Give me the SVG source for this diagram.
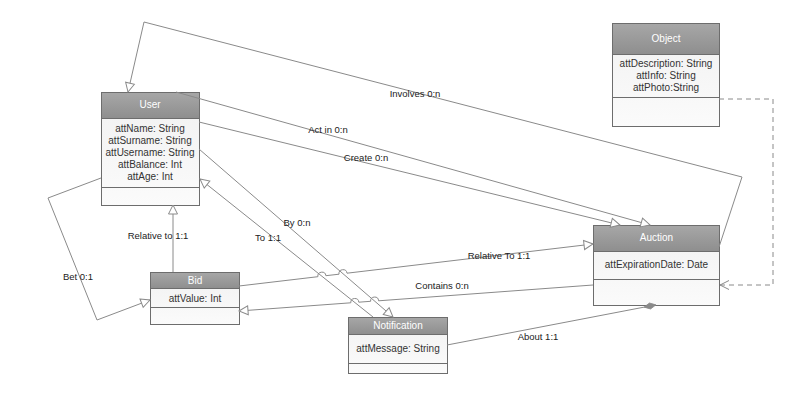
<svg xmlns="http://www.w3.org/2000/svg" width="806" height="409" viewBox="0 0 806 409">
<defs>
<linearGradient id="hdr" x1="0" y1="0" x2="0" y2="1">
<stop offset="0" stop-color="#a7a7a7"/>
<stop offset="1" stop-color="#8e8e8e"/>
</linearGradient>
<linearGradient id="bdy" x1="0" y1="0" x2="0" y2="1">
<stop offset="0" stop-color="#f1f1f1"/>
<stop offset="1" stop-color="#fbfbfb"/>
</linearGradient>
<marker id="tri" markerUnits="userSpaceOnUse" markerWidth="12" markerHeight="12" refX="9" refY="4.5" orient="auto" overflow="visible">
<path d="M0,0 L9,4.5 L0,9 Z" fill="#ffffff" stroke="#8a8a8a" stroke-width="1"/>
</marker>
<marker id="vee" markerUnits="userSpaceOnUse" markerWidth="12" markerHeight="12" refX="9" refY="4.5" orient="auto" overflow="visible">
<path d="M0,0 L9,4.5 L0,9" fill="none" stroke="#8a8a8a" stroke-width="1"/>
</marker>
<marker id="dia" markerUnits="userSpaceOnUse" markerWidth="14" markerHeight="8" refX="6" refY="3" orient="auto" overflow="visible">
<path d="M0,3 L6,0 L12,3 L6,6 Z" fill="#8a8a8a" stroke="#8a8a8a" stroke-width="0.8"/>
</marker>
</defs>
<style>
.hd{fill:url(#hdr);stroke:#6d6d6d;stroke-width:1}
.bd{fill:url(#bdy);stroke:#6d6d6d;stroke-width:1}
.ht{font-family:"Liberation Sans",Arial,sans-serif;font-size:10px;fill:#ffffff;text-anchor:middle}
.at{font-family:"Liberation Sans",Arial,sans-serif;font-size:10px;fill:#333333;text-anchor:middle}
.ln{fill:none;stroke:#8a8a8a;stroke-width:1}
.ar{marker-end:url(#tri)}
.lb{font-family:"Liberation Sans",Arial,sans-serif;font-size:9.5px;fill:#222222;text-anchor:middle}
</style>
<rect width="806" height="409" fill="#ffffff"/>

<g id="User">
<rect class="bd" x="101.5" y="92.5" width="98" height="113"/>
<rect class="hd" x="101.5" y="92.5" width="98" height="26"/>
<line x1="101.5" y1="187.5" x2="199.5" y2="187.5" stroke="#6d6d6d"/>
<text class="ht" x="150" y="108">User</text>
<text class="at" x="150" y="131.5">attName: String</text>
<text class="at" x="150" y="143.5">attSurname: String</text>
<text class="at" x="150" y="155.5">attUsername: String</text>
<text class="at" x="150" y="167.5">attBalance: Int</text>
<text class="at" x="150" y="179.5">attAge: Int</text>
</g>

<g id="Object">
<rect class="bd" x="612.5" y="23.5" width="107" height="103"/>
<rect class="hd" x="612.5" y="23.5" width="107" height="31"/>
<line x1="612.5" y1="97.5" x2="719.5" y2="97.5" stroke="#6d6d6d"/>
<text class="ht" x="666" y="42">Object</text>
<text class="at" x="666" y="66.5">attDescription: String</text>
<text class="at" x="666" y="78.5">attInfo: String</text>
<text class="at" x="666" y="90.5">attPhoto:String</text>
</g>

<g id="Auction">
<rect class="bd" x="593.5" y="225.5" width="126" height="80"/>
<rect class="hd" x="593.5" y="225.5" width="126" height="26"/>
<line x1="593.5" y1="279.5" x2="719.5" y2="279.5" stroke="#6d6d6d"/>
<text class="ht" x="656.5" y="241">Auction</text>
<text class="at" x="656.5" y="268">attExpirationDate: Date</text>
</g>

<g id="Bid">
<rect class="bd" x="150.5" y="272.5" width="89" height="52"/>
<rect class="hd" x="150.5" y="272.5" width="89" height="16"/>
<line x1="150.5" y1="307.5" x2="239.5" y2="307.5" stroke="#6d6d6d"/>
<text class="ht" x="195" y="283.5">Bid</text>
<text class="at" x="195" y="301.5">attValue: Int</text>
</g>

<g id="Notification">
<rect class="bd" x="348.5" y="317.5" width="99" height="56"/>
<rect class="hd" x="348.5" y="317.5" width="99" height="17"/>
<line x1="348.5" y1="363.5" x2="447.5" y2="363.5" stroke="#6d6d6d"/>
<text class="ht" x="398" y="329">Notification</text>
<text class="at" x="398" y="351.5">attMessage: String</text>
</g>

<g id="connectors">
<path class="ln ar" d="M719,247 L742,177 L144,22 L128,92"/>
<path class="ln ar" d="M176,92 L650,225"/>
<path class="ln ar" d="M199,122 L620,225"/>
<path class="ln ar" d="M199,149 L393,317"/>
<path class="ln ar" d="M373,317 L200,179"/>
<path class="ln ar" d="M173,272 L173,205"/>
<path class="ln ar" d="M101,178 L48,198 L97,320 L150,300"/>
<path class="ln ar" d="M239,286 L317.9,276.7 A4,4 0 0 1 325.9,275.7 L339,274.2 A4,4 0 0 1 347,273.2 L593,244"/>
<path class="ln ar" d="M593,285 L378.6,300.8 A4,4 0 0 0 370.6,301.3 L358.8,302.2 A4,4 0 0 0 350.8,302.8 L239,311"/>
<path class="ln" d="M719,99 L773,99 L773,285 L720,285" stroke-dasharray="5,4" marker-end="url(#vee)"/>
<path class="ln" d="M447,345 L650,306" marker-end="url(#dia)"/>
<text class="lb" x="415" y="97">Involves 0:n</text>
<text class="lb" x="328" y="133">Act in 0:n</text>
<text class="lb" x="366" y="161">Create 0:n</text>
<text class="lb" x="297" y="226">By 0:n</text>
<text class="lb" x="268" y="241">To 1:1</text>
<text class="lb" x="158" y="239">Relative to 1:1</text>
<text class="lb" x="78" y="280">Bet 0:1</text>
<text class="lb" x="499" y="259">Relative To 1:1</text>
<text class="lb" x="442" y="289">Contains 0:n</text>
<text class="lb" x="538" y="340">About 1:1</text>
</g>
</svg>
